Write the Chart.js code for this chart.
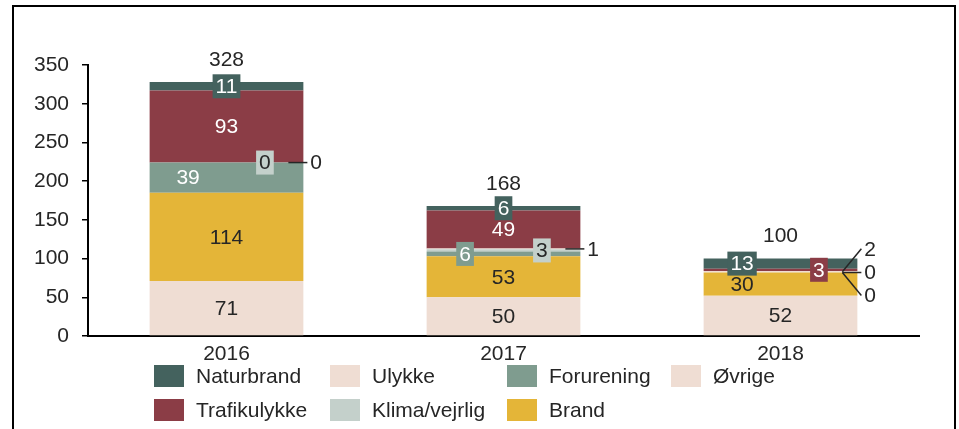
<!DOCTYPE html>
<html>
<head>
<meta charset="utf-8">
<script src="https://cdn.jsdelivr.net/npm/chart.js@4.4.0/dist/chart.umd.min.js"></script>
<style>
  body { margin: 0; background: #fff; font-family: Arial, "Liberation Sans", sans-serif; }
  #wrap { position: relative; width: 959px; height: 429px; overflow: hidden; }
  #frame { position: absolute; left: 12px; top: 5px; width: 944px; height: 500px; border: 2px solid #000; box-sizing: border-box; }
  #chart { position: absolute; left: 0; top: 0; }
  #legend { position: absolute; left: 154px; top: 365px; display: grid; grid-template-columns: 176px 177px 164px 164px; grid-auto-rows: 34px; }
  .item { display: flex; align-items: flex-start; font-size: 21px; color: #262626; white-space: nowrap; }
  .item span.box { display: inline-block; width: 30px; height: 22px; margin-right: 12px; }
  .item span.txt { line-height: 22px; }
</style>
</head>
<body>
<div id="wrap">
  <div id="frame"></div>
  <canvas id="chart" width="959" height="429"></canvas>
  <div id="legend"></div>
</div>
<script>
// Data (stack order bottom to top)
const years = ['2016', '2017', '2018'];
const ulykke = [71, 50, 52];
const brand = [114, 53, 30];
const forurening = [39, 6, 0];
const klima = [0, 3, 0];
const ovrige = [0, 1, 2];
const trafikulykke = [93, 49, 3];
const naturbrand = [11, 6, 13];
const yTicks = [0, 50, 100, 150, 200, 250, 300, 350];

const series = [
  { name: 'Ulykke', data: ulykke, color: '#EFDDD3', text: '#262626', place: ['c', 'c', 'c'] },
  { name: 'Brand', data: brand, color: '#E4B538', text: '#262626', place: ['c', 'c', 'l'] },
  { name: 'Forurening', data: forurening, color: '#7F9C8F', text: '#ffffff', place: ['l', 'l', 'out'] },
  { name: 'Klima/vejrlig', data: klima, color: '#C4D0CB', text: '#262626', place: ['r', 'r', 'out'] },
  { name: 'Øvrige', data: ovrige, color: '#EFDDD3', text: '#262626', place: ['out', 'out', 'out'] },
  { name: 'Trafikulykke', data: trafikulykke, color: '#8B3D46', text: '#ffffff', place: ['c', 'c', 'r'] },
  { name: 'Naturbrand', data: naturbrand, color: '#44625E', text: '#ffffff', place: ['c', 'c', 'l'] }
];
const legendOrder = ['Naturbrand', 'Ulykke', 'Forurening', 'Øvrige', 'Trafikulykke', 'Klima/vejrlig', 'Brand'];
const frac = { l: 0.25, c: 0.5, r: 0.75 };
const FONT = '21px Arial, "Liberation Sans", sans-serif';

// segment labels, callouts and totals
const labelPlugin = {
  id: 'segLabels',
  afterDatasetsDraw(chart) {
    const ctx = chart.ctx;
    const yScale = chart.scales.y;
    ctx.save();
    ctx.font = FONT;
    ctx.textBaseline = 'middle';
    const callouts = years.map(() => []);
    chart.data.datasets.forEach((ds, di) => {
      const meta = chart.getDatasetMeta(di);
      meta.data.forEach((bar, i) => {
        const v = ds.data[i];
        const p = series[di].place[i];
        const yc = (bar.y + bar.base) / 2;
        if (p === 'out') {
          callouts[i].push({ v: v, yc: yc, bar: bar });
          return;
        }
        const x = bar.x + (frac[p] - 0.5) * bar.width;
        const txt = String(v);
        if (Math.abs(bar.base - bar.y) < 20) {
          const w = ctx.measureText(txt).width + 6;
          ctx.fillStyle = series[di].color;
          ctx.fillRect(x - w / 2, yc - 12, w, 24);
        }
        ctx.fillStyle = series[di].text;
        ctx.textAlign = 'center';
        ctx.fillText(txt, x, yc + 1);
      });
    });

    callouts.forEach(list => {
      const n = list.length;
      list.forEach((c, k) => {
        const right = c.bar.x + c.bar.width / 2;
        const dy = ((n - 1) / 2 - k) * 23;
        ctx.strokeStyle = '#262626';
        ctx.lineWidth = 1.5;
        ctx.beginPath();
        ctx.moveTo(right - 15, c.yc);
        ctx.lineTo(right + 4, c.yc + dy);
        ctx.stroke();
        ctx.fillStyle = '#262626';
        ctx.textAlign = 'left';
        ctx.fillText(String(c.v), right + 7, c.yc + dy + 1);
      });
    });

    // totals above each bar
    const meta0 = chart.getDatasetMeta(0);
    years.forEach((yr, i) => {
      const total = series.reduce((s, d) => s + d.data[i], 0);
      ctx.fillStyle = '#262626';
      ctx.textAlign = 'center';
      ctx.fillText(String(total), meta0.data[i].x, yScale.getPixelForValue(total) - 22);
    });
    ctx.restore();
  }
};

Chart.defaults.font.family = 'Arial, "Liberation Sans", sans-serif';
Chart.defaults.font.size = 21;
Chart.defaults.color = '#262626';

new Chart(document.getElementById('chart').getContext('2d'), {
  type: 'bar',
  data: {
    labels: years,
    datasets: series.map(s => ({
      label: s.name,
      data: s.data,
      backgroundColor: s.color,
      borderWidth: 0,
      categoryPercentage: 1,
      barPercentage: 0.555
    }))
  },
  options: {
    responsive: false,
    animation: false,
    layout: { padding: { top: 65, right: 40, bottom: 63, left: 0 } },
    plugins: { legend: { display: false }, tooltip: { enabled: false } },
    scales: {
      x: {
        stacked: true,
        grid: { display: false, drawTicks: false },
        border: { display: true, color: '#000', width: 2 },
        ticks: { padding: 6 },
        afterFit: scale => { scale.height = 30; }
      },
      y: {
        stacked: true,
        min: 0,
        max: 350,
        afterBuildTicks: scale => { scale.ticks = yTicks.map(v => ({ value: v })); },
        grid: { drawOnChartArea: false, drawTicks: true, tickLength: 6, color: '#000', lineWidth: 1.5 },
        border: { display: true, color: '#000', width: 2 },
        ticks: { padding: 13 },
        afterFit: scale => { scale.width = 88; }
      }
    }
  },
  plugins: [labelPlugin]
});

// legend built from the series list
const legend = document.getElementById('legend');
legendOrder.forEach(name => {
  const s = series.find(d => d.name === name);
  const el = document.createElement('div');
  el.className = 'item';
  el.innerHTML = '<span class="box" style="background:' + s.color + '"></span><span class="txt">' + s.name + '</span>';
  legend.appendChild(el);
});
</script>
</body>
</html>
